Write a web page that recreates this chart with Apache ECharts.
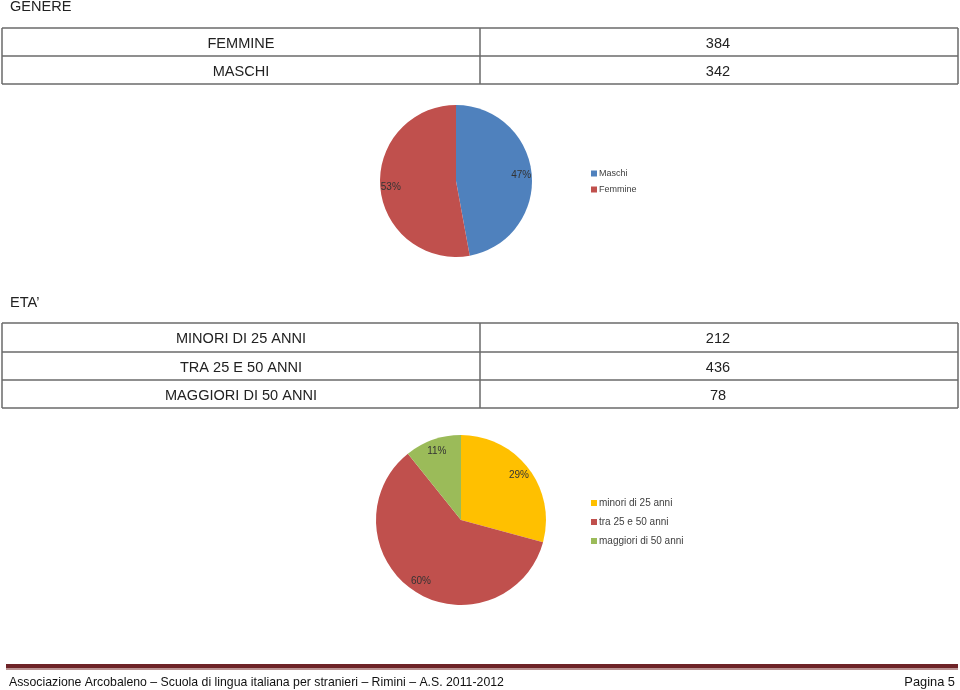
<!DOCTYPE html>
<html>
<head>
<meta charset="utf-8">
<script src="https://cdn.jsdelivr.net/npm/echarts@6/dist/echarts.min.js"></script>
<style>html,body{margin:0;padding:0;background:#fff}#c{width:960px;height:690px}</style>
</head>
<body>
<div id="c"></div>
<script>
// ---- data ----
var genderTableLabels = ['FEMMINE', 'MASCHI'];
var genderTableValues = [384, 342];
var genderPieNames = ['Maschi', 'Femmine'];
var genderPieValues = [342, 384];
var genderColors = ['#4F81BD', '#C0504D'];

var ageTableLabels = ['MINORI DI 25 ANNI', 'TRA 25 E 50 ANNI', 'MAGGIORI DI 50 ANNI'];
var ageTableValues = [212, 436, 78];
var agePieNames = ['minori di 25 anni', 'tra 25 e 50 anni', 'maggiori di 50 anni'];
var agePieValues = [212, 436, 78];
var ageColors = ['#FFC000', '#C0504D', '#9BBB59'];

var footerText = 'Associazione Arcobaleno \u2013 Scuola di lingua italiana per stranieri \u2013 Rimini \u2013 A.S. 2011-2012';
var pageText = 'Pagina 5';

// ---- build ----
var FONT = '"Liberation Sans", Arial, sans-serif';
var chart = echarts.init(document.getElementById('c'));
var graphics = [];

function txt(s, x, y, size, align, color, sx) {
  graphics.push({type: 'text', silent: true, x: x, y: y, scaleX: sx || 1,
    style: {text: s, x: 0, y: 0, font: size + 'px ' + FONT,
    fill: color || '#222', textAlign: align || 'left', textVerticalAlign: 'middle'}});
}
function line(x1, y1, x2, y2, c, w) {
  graphics.push({type: 'line', silent: true, shape: {x1: x1, y1: y1, x2: x2, y2: y2},
    style: {stroke: c || '#6a6a6a', lineWidth: w || 1.5}});
}
function table(labels, values, rowTops, left, mid, right, dy) {
  var top = rowTops[0], bottom = rowTops[rowTops.length - 1];
  line(left, top, right, top); line(left, bottom, right, bottom);
  line(left, top, left, bottom); line(right, top, right, bottom);
  line(mid, top, mid, bottom);
  for (var i = 0; i < labels.length; i++) {
    if (i > 0) line(left, rowTops[i], right, rowTops[i]);
    var cy = (rowTops[i] + rowTops[i + 1]) / 2 + dy;
    txt(labels[i], (left + mid) / 2, cy, 15, 'center', '#222', 0.97);
    txt(String(values[i]), (mid + right) / 2 - 1, cy, 15, 'center', '#222', 0.97);
  }
}

txt('GENERE', 10, 7, 15, 'left', '#222', 0.97);
table(genderTableLabels, genderTableValues, [28, 56, 84], 2, 480, 958, 1.5);
txt('ETA\u2019', 10, 303, 15, 'left', '#222', 0.97);
table(ageTableLabels, ageTableValues, [323, 352, 380, 408], 2, 480, 958, 1.5);

// footer
graphics.push({type: 'rect', silent: true, shape: {x: 6, y: 664, width: 952, height: 4}, style: {fill: '#6e2327'}});
graphics.push({type: 'rect', silent: true, shape: {x: 6, y: 668, width: 952, height: 2}, style: {fill: '#b99393'}});
txt(footerText, 9, 682, 13.5, 'left', '#111', 0.91);
txt(pageText, 955, 682, 13.5, 'right', '#111', 0.95);

function pieData(names, values, colors) {
  return names.map(function (n, i) { return {name: n, value: values[i], itemStyle: {color: colors[i]}}; });
}
function labelData(values) {
  return values.map(function (v) { return {value: v}; });
}
var pctLabel = {
  show: true, position: 'inside', fontSize: 10, color: '#333', fontFamily: FONT,
  formatter: function (p) { return Math.round(p.percent) + '%'; }
};

var option = {
  animation: false,
  graphic: graphics,
  legend: [
    {data: genderPieNames, orient: 'vertical', left: 586, top: 164, icon: 'rect', itemWidth: 6, itemHeight: 6,
      itemGap: 7, selectedMode: false, textStyle: {fontSize: 9, color: '#404040', fontFamily: FONT, padding: [0, 0, 0, -3]}},
    {data: agePieNames, orient: 'vertical', left: 586, top: 493, icon: 'rect', itemWidth: 6, itemHeight: 6,
      itemGap: 9, selectedMode: false, textStyle: {fontSize: 10, color: '#404040', fontFamily: FONT, padding: [0, 0, 0, -3]}}
  ],
  series: [
    {type: 'pie', center: [456, 181], radius: [0, 76], startAngle: 90, clockwise: true, silent: true,
      label: {show: false}, labelLine: {show: false}, itemStyle: {borderWidth: 0},
      data: pieData(genderPieNames, genderPieValues, genderColors)},
    {type: 'pie', center: [456, 181], radius: [49, 76], startAngle: 90, clockwise: true, silent: true,
      itemStyle: {color: 'rgba(0,0,0,0)', borderWidth: 0}, label: pctLabel, labelLine: {show: false},
      data: labelData(genderPieValues)},
    {type: 'pie', center: [461, 520], radius: [0, 85], startAngle: 90, clockwise: true, silent: true,
      label: {show: false}, labelLine: {show: false}, itemStyle: {borderWidth: 0},
      data: pieData(agePieNames, agePieValues, ageColors)},
    {type: 'pie', center: [461, 520], radius: [55, 85], startAngle: 90, clockwise: true, silent: true,
      itemStyle: {color: 'rgba(0,0,0,0)', borderWidth: 0}, label: pctLabel, labelLine: {show: false},
      data: labelData(agePieValues)}
  ]
};
chart.setOption(option);
</script>
</body>
</html>
